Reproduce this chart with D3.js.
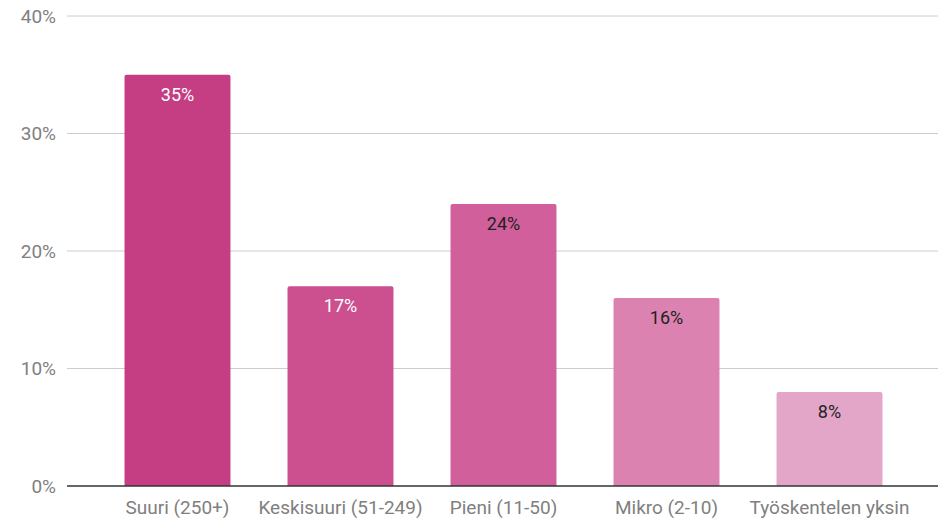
<!DOCTYPE html>
<html><head><meta charset="utf-8">
<script src="https://cdn.jsdelivr.net/npm/d3@7"></script>
<style>body{margin:0;background:#fff}svg{display:block;font-family:Roboto,sans-serif}</style>
</head><body><svg id="c" width="940" height="519"></svg>
<script>
const categories = ["Suuri (250+)", "Keskisuuri (51-249)", "Pieni (11-50)", "Mikro (2-10)", "Työskentelen yksin"];
const values = [35, 17, 24, 16, 8];
const colors = ["#c53e84", "#cc5090", "#d05f9b", "#dc82b0", "#e4a6c8"];
const labelColors = ["#ffffff", "#ffffff", "#222222", "#222222", "#222222"];
const yTicks = [0, 10, 20, 30, 40];

const svg = d3.select("#c");
const x = d3.scaleBand().domain(categories).range([96, 911]).paddingInner(0.35).paddingOuter(0.175);
const y = d3.scaleLinear().domain([0, 40]).range([486, 16]);

const grid = svg.append("g");
grid.selectAll("line").data(yTicks.filter(d => d > 0)).join("line")
  .attr("x1", 67).attr("x2", 938).attr("y1", d => y(d)).attr("y2", d => y(d))
  .attr("stroke", "#cccccc").attr("stroke-width", 1);

svg.append("g").selectAll("text").data(yTicks).join("text")
  .attr("x", 56).attr("y", d => y(d)).attr("dy", "0.35em").attr("text-anchor", "end")
  .attr("fill", "#808080").attr("font-size", 19).text(d => d + "%");

const r = 2;
svg.append("g").selectAll("path").data(values).join("path")
  .attr("fill", (d, i) => colors[i])
  .attr("d", (d, i) => {
    const x0 = x(categories[i]), w = x.bandwidth(), y0 = y(d), y1 = y(0);
    return `M${x0},${y1}V${y0 + r}Q${x0},${y0} ${x0 + r},${y0}H${x0 + w - r}Q${x0 + w},${y0} ${x0 + w},${y0 + r}V${y1}Z`;
  });

svg.append("g").selectAll("text").data(values).join("text")
  .attr("x", (d, i) => x(categories[i]) + x.bandwidth() / 2)
  .attr("y", d => y(d) + 26).attr("text-anchor", "middle")
  .attr("fill", (d, i) => labelColors[i]).attr("font-size", 18).text(d => d + "%");

svg.append("line").attr("x1", 67).attr("x2", 938).attr("y1", y(0)).attr("y2", y(0))
  .attr("stroke", "#333333").attr("stroke-width", 1.5);

svg.append("g").selectAll("text").data(categories).join("text")
  .attr("x", d => x(d) + x.bandwidth() / 2).attr("y", 514).attr("text-anchor", "middle")
  .attr("fill", "#808080").attr("font-size", 19).text(d => d);
</script></body></html>
